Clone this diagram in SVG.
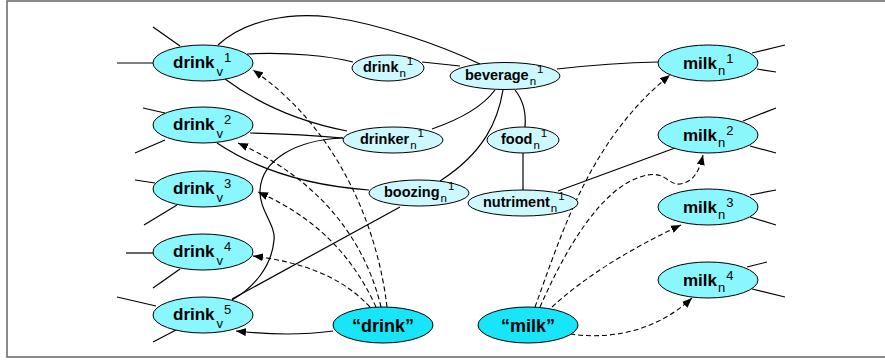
<svg xmlns="http://www.w3.org/2000/svg" width="885" height="360" viewBox="0 0 885 360">
<style>
.e{fill:none;stroke:#000;stroke-width:1.2}
.d{fill:none;stroke:#000;stroke-width:1.1;stroke-dasharray:5,3}
.big{fill:#8af7ff;stroke:#000;stroke-width:1}
.lt{fill:#cdf8ff;stroke:#000;stroke-width:1}
.q{fill:#18e6f8;stroke:#000;stroke-width:1}
text{font-family:"Liberation Sans",Arial,sans-serif;fill:#000}
.t17{font-size:17px;font-weight:bold}
.t14{font-size:14.5px;font-weight:bold}
.t18{font-size:18px;font-weight:bold}
.s13{font-size:13px;font-weight:normal}
.s11{font-size:11.5px;font-weight:normal}
</style>
<defs>
<marker id="ah" viewBox="0 0 10 8" refX="10" refY="4" markerWidth="10" markerHeight="8" markerUnits="userSpaceOnUse" orient="auto">
<path d="M0,0 L10,4 L0,8 z" fill="#000" stroke="none"/>
</marker>
</defs>
<rect x="7" y="1" width="882" height="356" fill="#fff" stroke="#6e6e6e" stroke-width="1.6"/>

<g id="edges">
<path class="e" d="M117,63 L153,63 M153,27 L180,46"/>
<path class="e" d="M143,108 L165,113 M135,153 L165,140"/>
<path class="e" d="M135,180 L155,183 M144,225 L177,205"/>
<path class="e" d="M126,253 L153,253" stroke="#666"/>
<path class="e" d="M153,288 L180,269"/>
<path class="e" d="M117,297 L156,306 M153,342 L176,330"/>
<path class="e" d="M752,53 L785,45 M757,69 L776,72"/>
<path class="e" d="M743,121 L776,108 M750,146 L776,153"/>
<path class="e" d="M750,195 L776,190 M750,217 L776,225"/>
<path class="e" d="M747,267 L767,262 M752,289 L785,297"/>
<path class="e" d="M218,45 C245,20 290,12 330,17 C380,24 440,45 480,64"/>
<path class="e" d="M247,54 C290,52 330,56 353,62"/>
<path class="e" d="M422,62 L460,66"/>
<path class="e" d="M557,69 Q610,63 658,62"/>
<path class="e" d="M225,79 C260,105 300,122 347,131"/>
<path class="e" d="M250,133 C290,134 320,136 343,138"/>
<path class="e" d="M432,129 Q478,113 495,90"/>
<path class="e" d="M503,90 C498,120 485,152 440,181"/>
<path class="e" d="M515,90 Q527,105 525,127"/>
<path class="e" d="M523,153 L523,190" stroke="#555"/>
<path class="e" d="M558,191 L675,148"/>
<path class="e" d="M343,138 C295,140 262,160 260,190 C259,210 276,225 274,240 C272,265 255,287 232,300"/>
<path class="e" d="M217,143 C250,165 300,185 369,190"/>
<path class="e" d="M400,207 L232,299"/>
<path class="e" d="M333,331 Q290,337 236,331" marker-end="url(#ah)"/>
<path class="d" d="M387,307 C378,230 340,130 253,70" marker-end="url(#ah)"/>
<path class="d" d="M381,307 C365,240 320,180 238,143" marker-end="url(#ah)"/>
<path class="d" d="M376,307 C350,250 310,215 258,192" marker-end="url(#ah)"/>
<path class="d" d="M370,307 C340,275 300,262 253,256" marker-end="url(#ah)"/>
<path class="d" d="M535,307 C563,230 590,140 670,75" marker-end="url(#ah)"/>
<path class="d" d="M540,307 C565,250 600,190 640,177 C665,168 668,186 680,184 C695,182 700,168 703,155" marker-end="url(#ah)"/>
<path class="d" d="M552,307 Q600,263 681,225" marker-end="url(#ah)"/>
<path class="d" d="M570,334 C620,341 662,326 692,298" marker-end="url(#ah)"/>
</g>

<g id="drink_v1"><ellipse class="big" cx="203" cy="63" rx="50" ry="18"/><text class="t17" x="173" y="68">drink<tspan class="s13" dx="2" dy="8">v</tspan><tspan class="s13" dx="1" dy="-14">1</tspan></text></g>
<g id="drink_v2"><ellipse class="big" cx="203" cy="125" rx="50" ry="18"/><text class="t17" x="173" y="130">drink<tspan class="s13" dx="2" dy="8">v</tspan><tspan class="s13" dx="1" dy="-14">2</tspan></text></g>
<g id="drink_v3"><ellipse class="big" cx="203" cy="189" rx="50" ry="18"/><text class="t17" x="173" y="194">drink<tspan class="s13" dx="2" dy="8">v</tspan><tspan class="s13" dx="1" dy="-14">3</tspan></text></g>
<g id="drink_v4"><ellipse class="big" cx="203" cy="252" rx="50" ry="18"/><text class="t17" x="173" y="257">drink<tspan class="s13" dx="2" dy="8">v</tspan><tspan class="s13" dx="1" dy="-14">4</tspan></text></g>
<g id="drink_v5"><ellipse class="big" cx="203" cy="315" rx="50" ry="18"/><text class="t17" x="173" y="320">drink<tspan class="s13" dx="2" dy="8">v</tspan><tspan class="s13" dx="1" dy="-14">5</tspan></text></g>

<g id="drink_n1"><ellipse class="lt" cx="388" cy="68" rx="36" ry="13"/><text class="t14" x="363" y="72">drink<tspan class="s11" dx="1" dy="5">n</tspan><tspan class="s11" dx="1" dy="-12">1</tspan></text></g>
<g id="beverage_n1"><ellipse class="lt" cx="505" cy="76" rx="55" ry="13.5"/><text class="t14" x="465" y="80">beverage<tspan class="s11" dx="1" dy="5">n</tspan><tspan class="s11" dx="1" dy="-12">1</tspan></text></g>
<g id="drinker_n1"><ellipse class="lt" cx="393" cy="140" rx="50" ry="13"/><text class="t14" x="360" y="144">drinker<tspan class="s11" dx="1" dy="5">n</tspan><tspan class="s11" dx="1" dy="-12">1</tspan></text></g>
<g id="food_n1"><ellipse class="lt" cx="523" cy="140" rx="36" ry="13"/><text class="t14" x="501" y="144">food<tspan class="s11" dx="1" dy="5">n</tspan><tspan class="s11" dx="1" dy="-12">1</tspan></text></g>
<g id="boozing_n1"><ellipse class="lt" cx="419" cy="193" rx="50" ry="13"/><text class="t14" x="384" y="197">boozing<tspan class="s11" dx="1" dy="5">n</tspan><tspan class="s11" dx="1" dy="-12">1</tspan></text></g>
<g id="nutriment_n1"><ellipse class="lt" cx="523" cy="203" rx="55" ry="13"/><text class="t14" x="483" y="207">nutriment<tspan class="s11" dx="1" dy="5">n</tspan><tspan class="s11" dx="1" dy="-12">1</tspan></text></g>

<g id="milk_n1"><ellipse class="big" cx="708" cy="63" rx="50" ry="18"/><text class="t17" x="683" y="69">milk<tspan class="s13" dx="1" dy="6">n</tspan><tspan class="s13" dx="1" dy="-12">1</tspan></text></g>
<g id="milk_n2"><ellipse class="big" cx="708" cy="135" rx="50" ry="18"/><text class="t17" x="683" y="141">milk<tspan class="s13" dx="1" dy="6">n</tspan><tspan class="s13" dx="1" dy="-12">2</tspan></text></g>
<g id="milk_n3"><ellipse class="big" cx="708" cy="207" rx="50" ry="18"/><text class="t17" x="683" y="213">milk<tspan class="s13" dx="1" dy="6">n</tspan><tspan class="s13" dx="1" dy="-12">3</tspan></text></g>
<g id="milk_n4"><ellipse class="big" cx="708" cy="280" rx="50" ry="18"/><text class="t17" x="683" y="286">milk<tspan class="s13" dx="1" dy="6">n</tspan><tspan class="s13" dx="1" dy="-12">4</tspan></text></g>

<g id="q_drink"><ellipse class="q" cx="383" cy="325" rx="50" ry="18"/><text class="t18" x="383" y="332" text-anchor="middle">“drink”</text></g>
<g id="q_milk"><ellipse class="q" cx="528" cy="325" rx="50" ry="18"/><text class="t18" x="528" y="332" text-anchor="middle">“milk”</text></g>
</svg>
